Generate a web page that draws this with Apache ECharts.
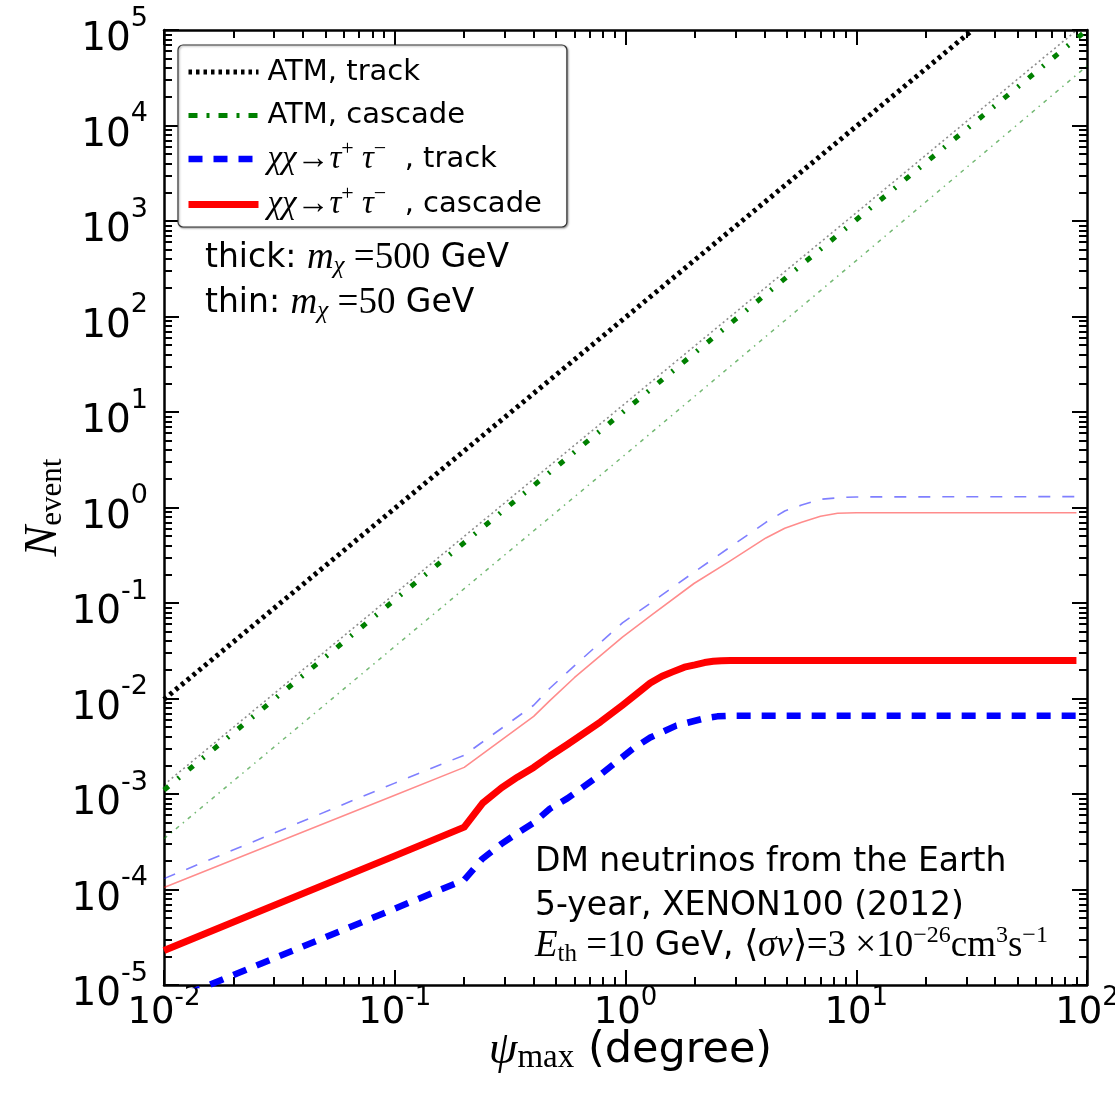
<!DOCTYPE html>
<html><head><meta charset="utf-8">
<script src="https://cdn.jsdelivr.net/npm/echarts@6/dist/echarts.min.js"></script>
<style>html,body{margin:0;padding:0;background:#fff}#c{width:1115px;height:1097px}</style>
</head><body><div id="c"></div>
<script>
// ---------- data ----------
const xRange = [0.01, 100];
const yRange = [1e-5, 1e5];

// ATM, track (thick) and thin companion
const psiAtmTrack = [0.01, 0.1, 1, 10, 31.9];
const atmTrackThick = [0.0098, 0.98, 98, 9800, 1e5];
const psiAtmTrackThin = [0.01, 0.1, 1, 10, 90.5];
const atmTrackThin = [1.25e-3, 0.125, 12.4, 1220, 1e5];

// ATM, cascade
const psiAtm = [0.01, 0.1, 1, 10, 100];
const atmCascThick = [1.1e-3, 0.108, 10.5, 1030, 1e5];
const atmCascThin = [3.4e-4, 0.035, 3.6, 385, 4.2e4];

// DM, cascade thick (500 GeV)
const psiCascThick = [0.01, 0.1, 0.2, 0.24, 0.29, 0.34, 0.4, 0.47, 0.56, 0.78, 0.97, 1.12, 1.28, 1.44, 1.6, 1.8, 2.0, 2.2, 2.4, 2.6, 2.85, 90];
const dmCascThick = [2.3e-5, 2.25e-4, 4.5e-4, 8.0e-4, 1.16e-3, 1.5e-3, 1.9e-3, 2.5e-3, 3.3e-3, 5.7e-3, 8.5e-3, 0.0112, 0.0145, 0.0171, 0.019, 0.0213, 0.0225, 0.0238, 0.0245, 0.0249, 0.025, 0.025];

// DM, track thick (500 GeV)
const psiTrackThick = [0.01, 0.1, 0.2, 0.24, 0.29, 0.34, 0.4, 0.47, 0.56, 0.78, 1.08, 1.28, 1.66, 2.2, 2.5, 2.85, 90];
const dmTrackThick = [6.4e-6, 6.3e-5, 1.26e-4, 2.1e-4, 3.0e-4, 3.9e-4, 5.0e-4, 7.0e-4, 9.0e-4, 1.6e-3, 3.0e-3, 3.9e-3, 5.2e-3, 6.2e-3, 6.5e-3, 6.6e-3, 6.6e-3];

// DM thin (50 GeV)
const psiThin = [0.01, 0.1, 0.2, 0.4, 0.47, 0.6, 0.97, 1.3, 1.98, 2.8, 4.06, 4.9, 5.8, 7.0, 8.3, 9.1, 10, 90];
const dmCascThin = [1.05e-4, 9.7e-4, 1.9e-3, 6.5e-3, 9.5e-3, 0.0165, 0.044, 0.075, 0.16, 0.27, 0.48, 0.607, 0.70, 0.81, 0.87, 0.876, 0.88, 0.88];
const dmTrackThin = [1.3e-4, 1.3e-3, 2.55e-3, 8.5e-3, 0.0128, 0.022, 0.062, 0.102, 0.21, 0.376, 0.70, 0.92, 1.06, 1.22, 1.26, 1.28, 1.29, 1.3];

const legendNames = ['ATM, track', 'ATM, cascade', 'χχ→τ⁺τ⁻, track', 'χχ→τ⁺τ⁻, cascade'];
// ---------------------------------------------------

const SANS = 'DejaVu Sans';
const SERIF = 'Liberation Serif';
const zip = (xs, ys) => xs.map((x, i) => [x, ys[i]]);

const styles = {
  trackThick: {color: '#000000', width: 5, type: [3.5, 4]},
  cascThick: {color: '#008000', width: 5, type: [6, 12, 2, 12]},
  dmTrackThick: {color: '#0000ff', width: 6.5, type: [14, 11]},
  dmCascThick: {color: '#ff0000', width: 7, type: 'solid'},
  trackThin: {color: 'rgba(0,0,0,0.45)', width: 1.6, type: [2, 3]},
  cascThin: {color: 'rgba(0,128,0,0.55)', width: 1.5, type: [4, 5, 1.5, 5]},
  dmTrackThin: {color: 'rgba(0,0,255,0.5)', width: 1.6, type: [12, 12]},
  dmCascThin: {color: 'rgba(255,0,0,0.45)', width: 1.6, type: 'solid'}
};

function line(name, data, st, z) {
  return {
    name, type: 'line', data, symbol: 'none', showSymbol: false, smooth: false,
    lineStyle: {color: st.color, width: st.width, type: st.type, cap: 'butt', join: 'round'},
    itemStyle: {color: st.color}, z: z, animation: false, clip: true
  };
}

const series = [
  line(legendNames[0], zip(psiAtmTrack, atmTrackThick), styles.trackThick, 3),
  line(legendNames[1], zip(psiAtm, atmCascThick), styles.cascThick, 3),
  line(legendNames[2], zip(psiTrackThick, dmTrackThick), styles.dmTrackThick, 3),
  line(legendNames[3], zip(psiCascThick, dmCascThick), styles.dmCascThick, 3),
  line('ATM, track (thin)', zip(psiAtmTrackThin, atmTrackThin), styles.trackThin, 4),
  line('ATM, cascade (thin)', zip(psiAtm, atmCascThin), styles.cascThin, 4),
  line('χχ→τ⁺τ⁻, track (thin)', zip(psiThin, dmTrackThin), styles.dmTrackThin, 4),
  line('χχ→τ⁺τ⁻, cascade (thin)', zip(psiThin, dmCascThin), styles.dmCascThin, 4)
];

const tickRichY = {
  b: {fontFamily: SANS, fontSize: 39, color: '#000', padding: [20, 0, 0, 0]},
  s: {fontFamily: SANS, fontSize: 27, color: '#000', padding: [0, 0, 23, 0]}
};
const tickRichX = {
  b: {fontFamily: SANS, fontSize: 37, color: '#000', padding: [8, 0, 0, 0]},
  s: {fontFamily: SANS, fontSize: 26, color: '#000', padding: [0, 0, 22, 0]}
};
function powLabel(v) {
  const e = Math.round(Math.log10(v));
  return '{b|10}{s|' + e + '}';
}

function logAxis(kind, pos, range, main) {
  const ax = {
    type: 'log', logBase: 10, position: pos, min: range[0], max: range[1], interval: 1,
    axisLine: {show: true, onZero: false, lineStyle: {color: '#000', width: 2.5}},
    axisTick: {show: true, inside: true, length: 15, lineStyle: {color: '#000', width: 2}},
    minorTick: {show: true, splitNumber: 9, length: 8, lineStyle: {color: '#000', width: 2}},
    splitLine: {show: false}, minorSplitLine: {show: false},
    axisLabel: {show: false},
    nameMoveOverlap: false,
    silent: true
  };
  if (main) {
    ax.axisLabel = {show: true, formatter: powLabel, rich: kind === 'x' ? tickRichX : tickRichY,
      margin: kind === 'x' ? 0 : 16, color: '#000', hideOverlap: false};
  }
  return ax;
}

const xAxes = [logAxis('x', 'bottom', xRange, true), logAxis('x', 'top', xRange, false)];
const yAxes = [logAxis('y', 'left', yRange, true), logAxis('y', 'right', yRange, false)];

xAxes[0].name = '{g|ψ}{sub|max}{t| (degree)}';
xAxes[0].nameLocation = 'middle';
xAxes[0].nameGap = 41;
xAxes[0].nameTextStyle = {
  padding: [0, 0, 0, 10],
  rich: {
    g: {fontFamily: SERIF, fontStyle: 'italic', fontSize: 46, color: '#000'},
    sub: {fontFamily: SERIF, fontSize: 33, color: '#000', padding: [16, 0, 0, 0]},
    t: {fontFamily: SANS, fontSize: 43, color: '#000'}
  }
};
yAxes[0].name = '{n|N}{sub|event}';
yAxes[0].nameLocation = 'middle';
yAxes[0].nameRotate = 90;
yAxes[0].nameGap = 96;
yAxes[0].nameTextStyle = {
  rich: {
    n: {fontFamily: SERIF, fontStyle: 'italic', fontSize: 46, color: '#000'},
    sub: {fontFamily: SERIF, fontSize: 31, color: '#000', padding: [18, 0, 0, 0]}
  }
};

const legendRich = {
  sp: {width: 4},
  t: {fontFamily: SANS, fontSize: 29, color: '#000'},
  m: {fontFamily: SERIF, fontStyle: 'italic', fontSize: 33, color: '#000'},
  r: {fontFamily: SERIF, fontSize: 33, color: '#000'},
  sup: {fontFamily: SERIF, fontSize: 22, color: '#000', padding: [0, 0, 20, 0]}
};
const legendFmt = {};
legendFmt[legendNames[0]] = '{sp| }{t|ATM, track}{sup| }';
legendFmt[legendNames[1]] = '{sp| }{t|ATM, cascade}{sup| }';
legendFmt[legendNames[2]] = '{sp| }{m|χχ}{r|→}{m|τ}{sup|+}{m| τ}{sup|−}{t|  , track}';
legendFmt[legendNames[3]] = '{sp| }{m|χχ}{r|→}{m|τ}{sup|+}{m| τ}{sup|−}{t|  , cascade}';

const legendData = [
  {name: legendNames[0], lineStyle: {width: 5, type: [3.5, 4], color: '#000'}},
  {name: legendNames[1], lineStyle: {width: 5, type: [9, 9, 3, 9], color: '#008000'}},
  {name: legendNames[2], lineStyle: {width: 6.5, type: [14, 11], color: '#0000ff'}},
  {name: legendNames[3], lineStyle: {width: 7, type: 'solid', color: '#ff0000'}}
].map(d => Object.assign(d, {itemStyle: {opacity: 0}}));

const annoRich = {
  t: {fontFamily: SANS, fontSize: 33, color: '#000'},
  mi: {fontFamily: SERIF, fontStyle: 'italic', fontSize: 37, color: '#000'},
  n: {fontFamily: SERIF, fontSize: 37, color: '#000'},
  sub: {fontFamily: SERIF, fontStyle: 'italic', fontSize: 25, color: '#000', padding: [16, 0, 0, 0]},
  subr: {fontFamily: SERIF, fontSize: 25, color: '#000', padding: [16, 0, 0, 0]},
  sup: {fontFamily: SERIF, fontSize: 24, color: '#000', padding: [0, 0, 20, 0]}
};

function anno(x, y, text) {
  return {type: 'text', x: x, y: y, silent: true, z: 10,
    style: {text: text, rich: annoRich, align: 'left', verticalAlign: 'middle', fill: '#000'}};
}

const option = {
  backgroundColor: '#fff',
  animation: false,
  grid: {left: 164, right: 28, top: 30, bottom: 112, containLabel: false, outerBoundsMode: 'none'},
  xAxis: xAxes,
  yAxis: yAxes,
  legend: {
    data: legendData, orient: 'vertical', left: 178, top: 45,
    itemWidth: 70, itemHeight: 14, itemGap: 8,
    padding: [6, 25, 6, 7],
    backgroundColor: '#fff', borderColor: '#333', borderWidth: 1.2, borderRadius: 5,
    shadowColor: 'rgba(0,0,0,0.35)', shadowBlur: 2, shadowOffsetX: 1, shadowOffsetY: 1,
    selectedMode: false,
    formatter: name => legendFmt[name],
    textStyle: {rich: legendRich, color: '#000'}
  },
  graphic: [
    anno(205, 258, '{t|thick: }{mi|m}{sub|χ}{n| =500}{t| GeV}'),
    anno(205, 303, '{t|thin: }{mi|m}{sub|χ}{n| =50}{t| GeV}'),
    anno(535, 862, '{t|DM neutrinos from the Earth}'),
    anno(535, 906, '{t|5-year, XENON100 (2012)}'),
    anno(535, 946, '{mi|E}{subr|th}{n| =10}{t| GeV, }{n|⟨}{mi|σv}{n|⟩=3 ×10}{sup|−26}{n|cm}{sup|3}{n|s}{sup|−1}')
  ],
  series: series
};

const chart = echarts.init(document.getElementById('c'), null, {renderer: 'canvas'});
chart.setOption(option);
</script>
</body></html>
